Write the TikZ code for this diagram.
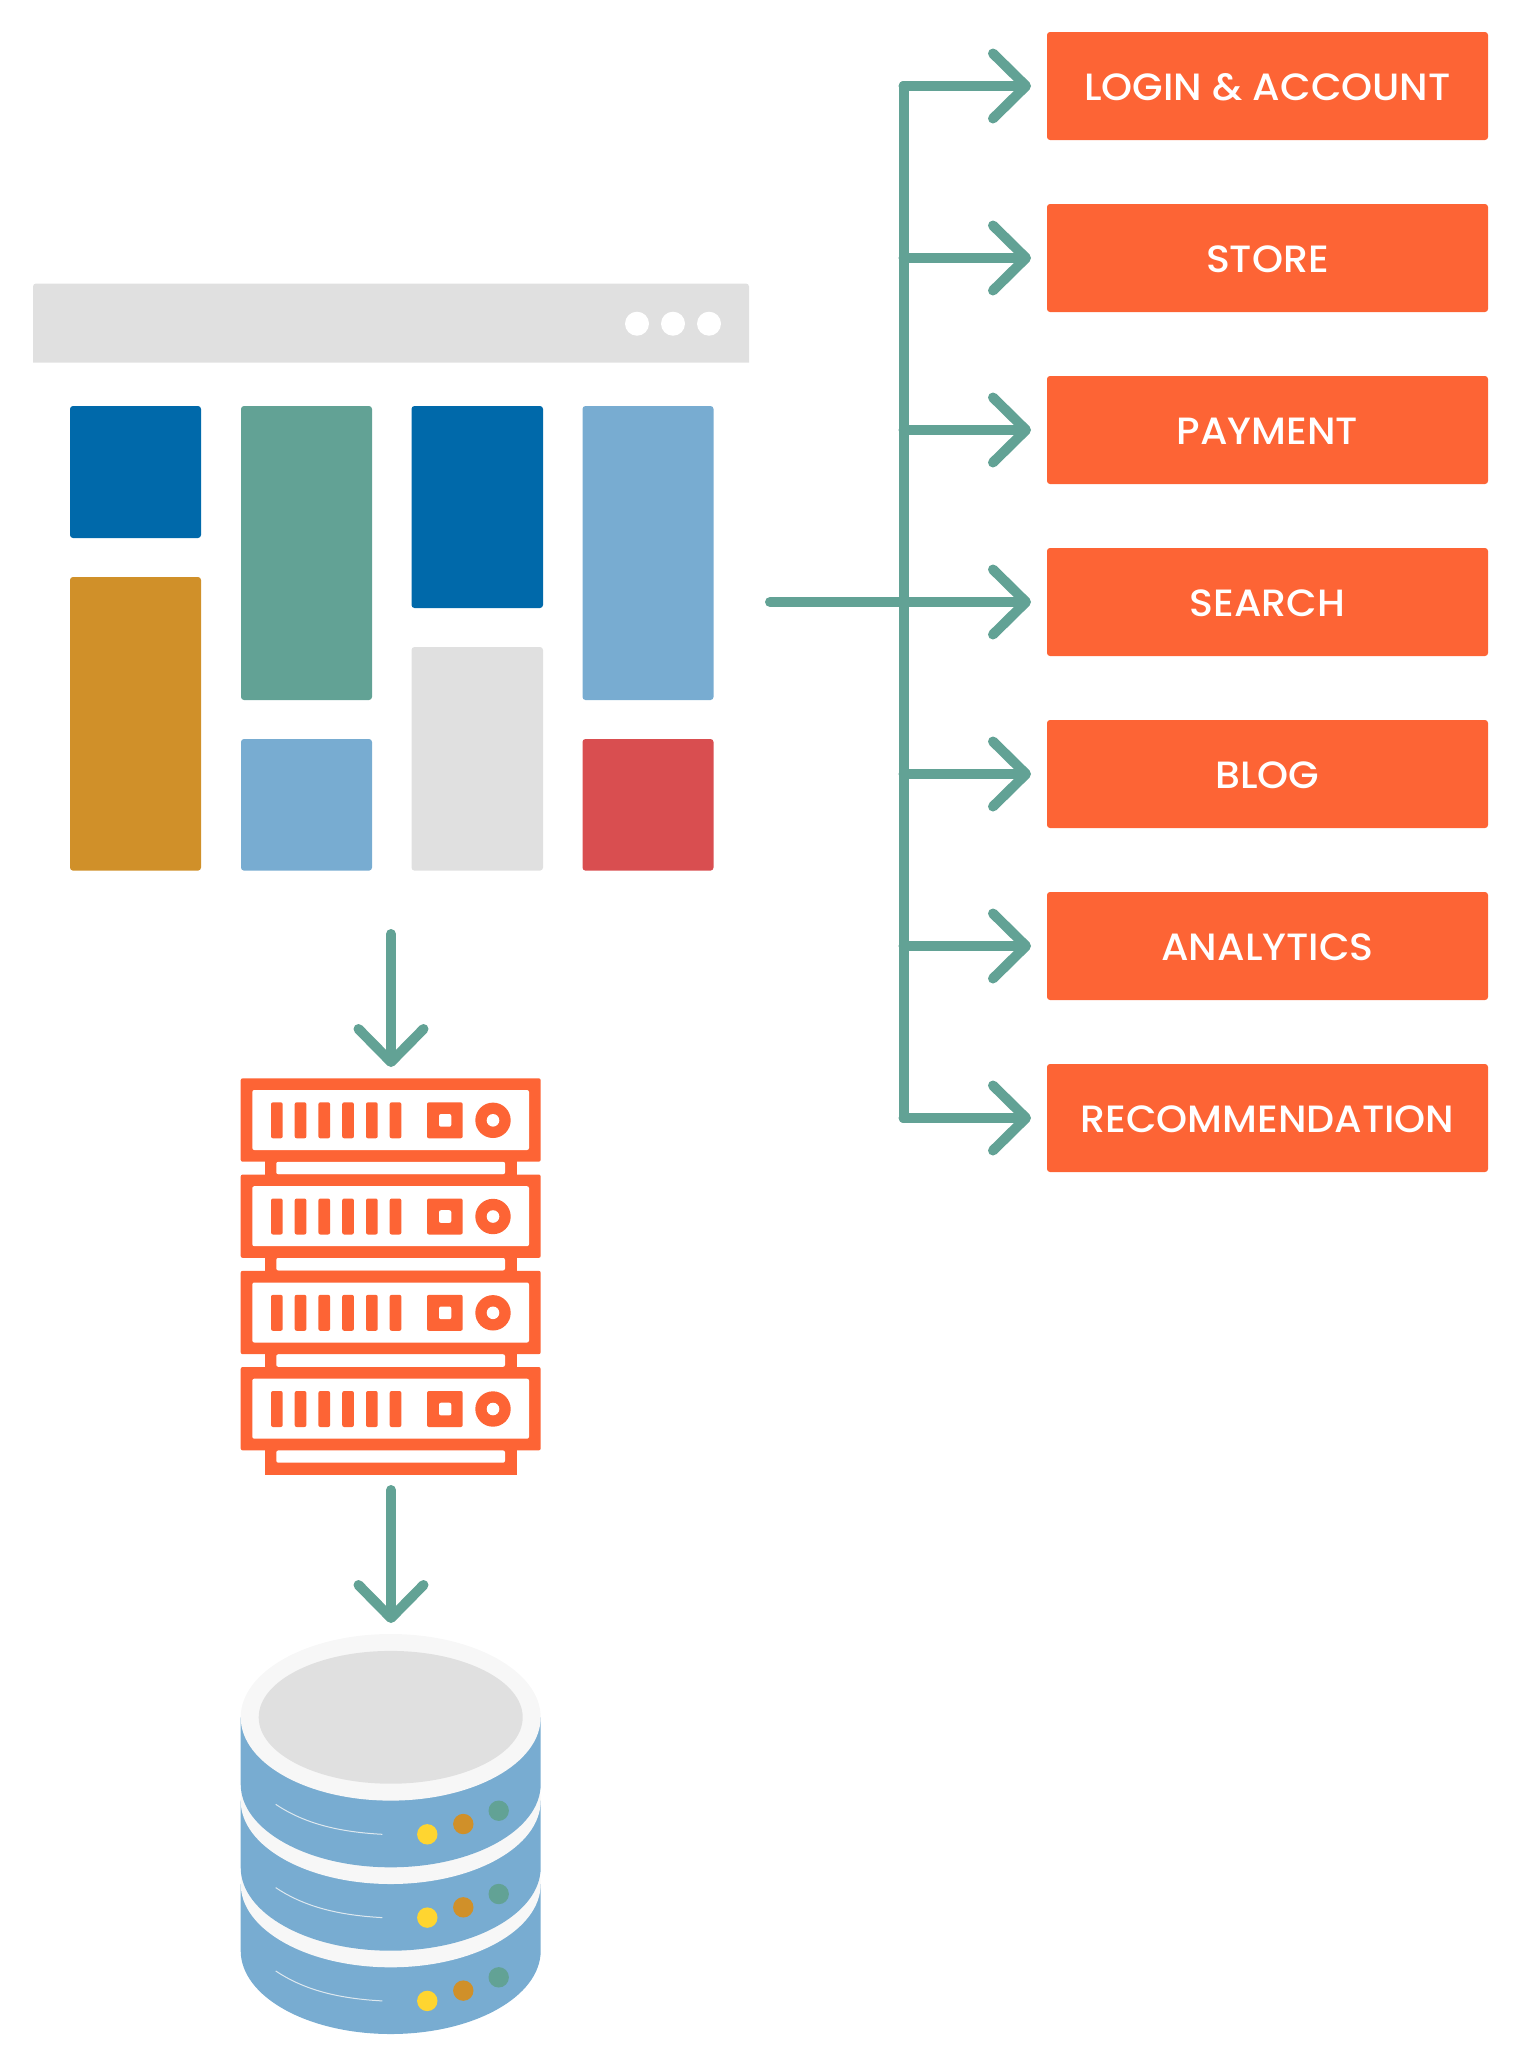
\documentclass[tikz,border=0pt]{standalone}
\usepackage{fontspec}
\setmainfont{Poppins}[UprightFont=* Medium,FakeStretch=1.04]
\usetikzlibrary{arrows.meta}
\definecolor{flowgreen}{HTML}{62A295}
\definecolor{hotorange}{HTML}{FD6435}
\definecolor{deepblue}{HTML}{0069AA}
\definecolor{skyblue}{HTML}{78ACD1}
\definecolor{amber}{HTML}{D09029}
\definecolor{lightgray}{HTML}{E0E0E0}
\definecolor{paleband}{HTML}{F7F7F7}
\definecolor{tilered}{HTML}{D94E50}
\definecolor{ledyellow}{HTML}{FFD530}
\tikzset{
  flow/.style={draw=flowgreen,line width=5pt,line cap=round,line join=round},
  flowarrow/.style={flow,-{Straight Barb[length=16.5pt,width=32.5pt,line width=5pt,round]}},
  servicebox/.style={fill=hotorange,text=white,rounded corners=1.5pt,minimum width=220.5pt,minimum height=54pt,inner sep=0pt,outer sep=0pt,text height=14pt,text depth=0pt,font=\fontsize{19}{22}\selectfont},
  tile/.style={rounded corners=1.5pt},
  rackpart/.style={fill=hotorange,rounded corners=1pt},
  rackhole/.style={fill=white,rounded corners=1pt}
}
\begin{document}
\begin{tikzpicture}[x=0.5pt,y=-0.5pt]
  \useasboundingbox (0,0) rectangle (1520,2067);

  % Browser bar
  \fill[lightgray] (33,362.5) [rounded corners=1.5pt] -- (33,283.5) -- (749,283.5) -- (749,300) [sharp corners] -- (749,362.5) -- cycle;
  \fill[white] (637,323.7) circle (6pt);
  \fill[white] (673,323.7) circle (6pt);
  \fill[white] (709,323.7) circle (6pt);

  % Page tiles
  \fill[tile,deepblue] (70,406) rectangle (201,538);
  \fill[tile,amber] (70,577) rectangle (201,870.6);
  \fill[tile,flowgreen] (241,406) rectangle (372,700);
  \fill[tile,skyblue] (241,739) rectangle (372,870.6);
  \fill[tile,deepblue] (411.5,406) rectangle (543,608);
  \fill[tile,lightgray] (411.5,647) rectangle (543,870.6);
  \fill[tile,skyblue] (582.5,406) rectangle (713.5,700);
  \fill[tile,tilered] (582.5,739) rectangle (713.5,870.6);

  % Services
  \node[servicebox] (login) at (1267.5,86) {LOGIN \& ACCOUNT};
  \node[servicebox] (store) at (1267.5,258) {STORE};
  \node[servicebox] (payment) at (1267.5,430) {PAYMENT};
  \node[servicebox] (search) at (1267.5,602) {SEARCH};
  \node[servicebox] (blog) at (1267.5,774) {BLOG};
  \node[servicebox] (analytics) at (1267.5,946) {ANALYTICS};
  \node[servicebox] (recommendation) at (1267.5,1118) {RECOMMENDATION};

  % Bus to the services
  \coordinate (pageout) at (770,602);
  \coordinate (bustop) at (903.5,86);
  \coordinate (busmid) at (903.5,602);
  \coordinate (busend) at (903.5,1118);
  \draw[flow] (bustop) -- (busend);
  \draw[flow] (pageout) -- (busmid);
  \foreach \name in {login,store,payment,search,blog,analytics,recommendation}
    \draw[flowarrow,shorten >=8pt] (bustop |- \name.west) -- (\name.west);

  % Arrows down
  \coordinate (pagebottom) at (391,934);
  \coordinate (racktop) at (391,1067);
  \coordinate (rackbottom) at (391,1490);
  \coordinate (dbtop) at (391,1623);
  \draw[flowarrow] (pagebottom) -- (racktop);
  \draw[flowarrow] (rackbottom) -- (dbtop);

  % Server rack
  \foreach \y in {1078.3,1174.5,1270.8,1367} {
    \begin{scope}[shift={(0,\y)}]
      \fill[hotorange] (264.7,83) rectangle (516.7,97);
      \fill[rackhole] (276.3,83.4) rectangle (505,96);
      \fill[rackpart] (240.7,0) rectangle (540.7,83.4);
      \fill[rackhole] (252.3,11.7) rectangle (529,71.7);
      \foreach \x in {271,294.7,318.4,342.2,366,389.7}
        \fill[rackpart] (\x,24) rectangle ++(11.7,36);
      \fill[rackpart] (427,24) rectangle (462.7,60);
      \fill[rackhole] (439,35.7) rectangle (451.3,48.4);
      \fill[hotorange] (493,42) circle (8.85pt);
      \fill[white] (493,42) circle (3.15pt);
    \end{scope}
  }
  \fill[white] (240,1451) rectangle (264.7,1476);
  \fill[white] (516.7,1451) rectangle (541,1476);
  \fill[hotorange] (264.7,1449) rectangle (516.7,1475);
  \fill[rackhole] (276.3,1450.4) rectangle (505,1462.7);

  % Database, bottom disc first
  \foreach \y in {1884,1800.7,1717.3} {
    \begin{scope}[shift={(390.7,\y)}]
      \fill[skyblue] (-150,0) -- (-150,66.7) arc[start angle=180,end angle=0,x radius=150,y radius=83.3] -- (150,0) -- cycle;
      \fill[paleband] (0,0) ellipse (75pt and 41.65pt);
    \end{scope}
  }
  \fill[lightgray] (390.7,1717.3) ellipse (66pt and 33.2pt);
  \foreach \y in {0,83.3,166.6} {
    \begin{scope}[shift={(0,\y)}]
      \draw[paleband,line width=0.5pt,opacity=0.8] (275.7,1804.3) .. controls (305,1824) and (340,1832) .. (382.3,1834.3);
      \fill[ledyellow] (427.3,1834.3) circle (5.1pt);
      \fill[amber] (463.3,1824) circle (5.1pt);
      \fill[flowgreen] (498.7,1810.7) circle (5.1pt);
    \end{scope}
  }
\end{tikzpicture}
\end{document}
